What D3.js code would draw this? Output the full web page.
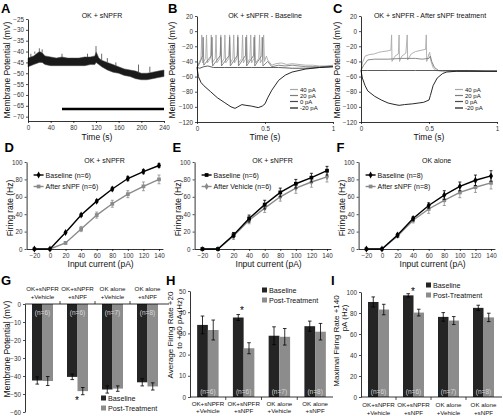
<!DOCTYPE html>
<html><head><meta charset="utf-8">
<script src="https://cdn.jsdelivr.net/npm/d3@7"></script>
<style>
body{margin:0;background:#fff}
svg{display:block;font-family:'Liberation Sans',Arial,sans-serif}
</style></head><body>
<svg id="c" width="503" height="416"></svg>
<script>
// ---------- DATA ----------
// Panel A: membrane potential band (time s, upper mV, lower mV)
const aTimes = [0,5,10,15,20,25,30,40,50,60,70,80,90,100,110,118,120,125,130,140,150,160,170,180,190,200,210,220,230,240];
const aUpper = [-43,-42.5,-42,-41,-40,-40.5,-42,-42.5,-43,-42.5,-43,-43,-43,-42.5,-42.5,-42,-40,-43,-44,-45,-46,-47,-48,-48.5,-49,-50,-50,-49.5,-49,-48.5];
const aLower = [-47,-46.5,-46,-45.5,-45,-45,-46,-46.5,-46.5,-46.5,-46.5,-46.5,-46.5,-46.5,-46,-46,-45,-46,-47,-48.5,-49.5,-50,-51,-51.5,-52.5,-53,-53,-52.5,-52,-51.5];
const aSpikes = [[5,-41],[12,-40],[20,-38.5],[25,-39],[60,-41],[105,-41],[120,-37.5],[130,-41],[140,-43],[155,-45],[195,-46],[215,-47]];
const aTreatment = [60,240];
const aTreatLevel = -66.5;
const aXTicks = [0,40,80,120,160,200,240];
const aYTicks = [-25,-30,-35,-40,-45,-50,-55,-60,-65,-70];

// Panel B traces (time s, mV)
const bTrace40 = [[0,-48],[0.015,-41],[0.029,-37],[0.035,-5],[0.041,-42],[0.064,-36],[0.07,-5],[0.076,-42],[0.099,-36],[0.105,-5],[0.111,-42],[0.134,-36],[0.14,-5],[0.146,-42],[0.169,-36],[0.175,-5],[0.181,-42],[0.199,-36],[0.205,-5],[0.211,-42],[0.234,-36],[0.24,-5],[0.246,-42],[0.264,-36],[0.27,-5],[0.276,-42],[0.294,-36],[0.30,-5],[0.306,-42],[0.329,-36],[0.335,-5],[0.341,-42],[0.359,-36],[0.365,-5],[0.371,-42],[0.389,-36],[0.395,-5],[0.401,-42],[0.419,-36],[0.425,-5],[0.431,-42],[0.454,-36],[0.46,-5],[0.466,-42],[0.484,-36],[0.49,-5],[0.496,-40],[0.51,-33],[0.52,-38],[0.55,-45],[0.58,-43],[0.62,-42],[0.66,-44],[0.7,-43],[0.75,-44],[0.8,-45],[0.85,-45],[0.9,-46],[0.95,-46],[1,-45]];
const bTrace20 = [[0,-48],[0.02,-42],[0.042,-32],[0.045,-8],[0.05,-45],[0.107,-32],[0.11,-8],[0.115,-46],[0.172,-32],[0.175,-8],[0.18,-46],[0.237,-32],[0.24,-8],[0.245,-46],[0.297,-32],[0.30,-8],[0.305,-46],[0.357,-32],[0.36,-8],[0.365,-46],[0.417,-32],[0.42,-8],[0.425,-46],[0.477,-32],[0.48,-8],[0.485,-46],[0.52,-40],[0.55,-47],[0.6,-45],[0.65,-46],[0.7,-45],[0.8,-47],[0.9,-47],[1,-46]];
const bTrace0 = [[0,-48],[0.02,-49],[0.05,-47],[0.08,-46],[0.12,-48],[0.2,-48],[0.3,-48],[0.4,-48],[0.5,-48],[0.6,-48],[0.7,-49],[0.8,-49],[0.9,-48],[1,-47]];
const bTraceM20 = [[0,-48],[0.01,-60],[0.03,-68],[0.05,-72],[0.1,-80],[0.15,-88],[0.2,-94],[0.25,-100],[0.28,-102],[0.3,-100],[0.33,-97],[0.36,-98],[0.4,-99],[0.45,-101],[0.48,-99],[0.5,-96],[0.52,-88],[0.55,-78],[0.6,-65],[0.65,-58],[0.7,-54],[0.75,-52],[0.8,-50],[0.9,-48],[1,-47]];

// Panel C traces
const cTrace40 = [[0,-52],[0.01,-42],[0.03,-33],[0.06,-31],[0.1,-30],[0.13,-28],[0.16,-27],[0.2,-26],[0.22,-25],[0.225,-5],[0.228,-40],[0.25,-33],[0.275,-30],[0.28,-5],[0.283,-40],[0.3,-33],[0.33,-29],[0.34,-5],[0.343,-38],[0.37,-30],[0.4,-27],[0.45,-25],[0.475,-24],[0.48,-5],[0.483,-40],[0.5,-30],[0.505,-28],[0.515,-40],[0.53,-48],[0.55,-52],[0.6,-53],[0.7,-52],[0.8,-52],[0.9,-53],[1,-52]];
const cTrace20 = [[0,-52],[0.02,-45],[0.05,-38],[0.1,-37],[0.2,-37],[0.3,-36],[0.4,-36],[0.45,-37],[0.5,-36],[0.51,-33],[0.52,-40],[0.54,-48],[0.57,-52],[0.7,-53],[1,-53]];
const cTrace0 = [[0,-52],[0.05,-52],[0.2,-52],[0.4,-52],[0.6,-52],[0.8,-52],[1,-53]];
const cTraceM20 = [[0,-52],[0.01,-62],[0.03,-72],[0.05,-79],[0.1,-86],[0.15,-91],[0.2,-95],[0.25,-97],[0.28,-98],[0.32,-97],[0.38,-96],[0.42,-95],[0.46,-94],[0.5,-91],[0.51,-85],[0.53,-72],[0.56,-62],[0.6,-56],[0.63,-54],[0.7,-53],[1,-53]];

const traceLabels = ["40 pA","20 pA","0 pA","-20 pA"];
const traceTicksY = [20,0,-20,-40,-60,-80,-100,-120];
const traceTicksX = [0,0.5,1];

// Panels D-F: F-I curves
const currents = [-20,0,20,40,60,80,100,120,140];
const dBase = [0,0,19,39,55,69,81,89,96];
const dBaseErr = [0,0,1,1.5,1.5,2,2.5,2.5,2];
const dPost = [0,0,7,23,39,52,63,72,80];
const dPostErr = [0,0,1.5,3,3.5,4,4,5,5];
const eBase = [0,0,16,35,51,65,75,82,90];
const eBaseErr = [0,0,3,4,5,5,5,5,5];
const ePost = [0,0,15,33,47,60,70,77,83];
const ePostErr = [0,0,4,4,5,5,6,6,6];
const fBase = [0,0,16,35,50,62,72,79,84];
const fBaseErr = [0,0,2,2,3,5,5,6,6];
const fPost = [0,0,15,33,46,56,65,71,76];
const fPostErr = [0,0,2,3,5,6,6,6,7];
const fiXTicks = [-20,0,20,40,60,80,100,120,140];
const fiYTicks = [0,20,40,60,80,100];

// Panels G-I: bar charts
const groups = ["g1","g2","g3","g4"];
const groupLine1 = ["OK+sNPFR","OK+sNPFR","OK alone","OK alone"];
const groupLine2 = ["+Vehicle","+sNPF","+Vehicle","+sNPF"];
const nLabels = ["(n=6)","(n=6)","(n=7)","(n=8)"];
const gBase = [-42.5,-40.5,-47.5,-43.5];
const gBaseErr = [2,1.5,2,2];
const gPost = [-42.8,-48.4,-47,-45.8];
const gPostErr = [2.5,2,1.5,2];
const hBase = [34,37.5,28.9,33.4];
const hBaseErr = [4.2,1.4,4.2,2.4];
const hPost = [31.6,23,28.4,30.8];
const hPostErr = [4.7,2.6,3.9,3.9];
const iBase = [90.5,96.8,76.3,84.9];
const iBaseErr = [4.8,1.6,4.1,2.5];
const iPost = [83.3,80.4,72.8,75.8];
const iPostErr = [5,3.2,3.8,4];
const gYTicks = [0,-10,-20,-30,-40,-50,-60];
const hYTicks = [0,10,20,30,40,50];
const iYTicks = [0,20,40,60,80,100];
const legendLabels = ["Baseline","Post-Treatment"];

// ---------- DRAW ----------
const svg = d3.select("#c");
const FS = 6.3;

function styleAxis(g){
  g.selectAll("path.domain").attr("stroke","#000").attr("stroke-width",0.8);
  g.selectAll(".tick line").attr("stroke","#000").attr("stroke-width",0.7);
  g.selectAll(".tick text").attr("font-size",FS).attr("fill","#333").attr("font-family","'Liberation Sans',Arial,sans-serif");
}
function leftAxis(scale,x,ticks){
  const g = svg.append("g").attr("transform",`translate(${x},0)`)
    .call(d3.axisLeft(scale).tickValues(ticks).tickSize(2).tickPadding(2).tickSizeOuter(0));
  styleAxis(g); return g;
}
function bottomAxis(scale,y,ticks,fmt){
  const ax = d3.axisBottom(scale).tickValues(ticks).tickSize(2).tickPadding(2.5).tickSizeOuter(0);
  if(fmt) ax.tickFormat(fmt);
  const g = svg.append("g").attr("transform",`translate(0,${y})`).call(ax);
  styleAxis(g); return g;
}
function text(x,y,s,opt={}){
  const t = svg.append("text").attr("x",x).attr("y",y).text(s)
    .attr("font-size",opt.size||8).attr("fill",opt.fill||"#111")
    .attr("text-anchor",opt.anchor||"middle")
    .attr("dominant-baseline",opt.base||"central");
  if(opt.bold) t.attr("font-weight","bold");
  return t;
}
function vtext(x,y,s,size){
  svg.append("text").attr("transform",`translate(${x},${y}) rotate(-90)`)
    .attr("text-anchor","middle").attr("dominant-baseline","central")
    .attr("font-size",size||8.5).attr("fill","#111").text(s);
}
function letter(x,y,s){ text(x,y,s,{size:13,bold:true,anchor:"start",base:"auto",fill:"#000"}); }

// ---- Panel A ----
{
  const x = d3.scaleLinear([0,240],[28,164]);
  const y = d3.scaleLinear([-72,-25],[121,19]);
  const band = aTimes.map((t,i)=>({t,u:aUpper[i],l:aLower[i]}));
  svg.append("path").datum(band)
    .attr("d",d3.area().x(d=>x(d.t)).y0(d=>y(d.l)).y1(d=>y(d.u)).curve(d3.curveLinear))
    .attr("fill","#1a1a1a").attr("stroke","#444").attr("stroke-width",0.5);
  aSpikes.forEach(([t,v])=>{
    const i = d3.bisectLeft(aTimes,t);
    const base = aUpper[Math.min(i,aUpper.length-1)];
    svg.append("line").attr("x1",x(t)).attr("x2",x(t)).attr("y1",y(base)).attr("y2",y(v))
      .attr("stroke","#444").attr("stroke-width",0.8);
  });
  svg.append("line").attr("x1",x(aTreatment[0])).attr("x2",x(aTreatment[1]))
    .attr("y1",y(aTreatLevel)).attr("y2",y(aTreatLevel)).attr("stroke","#000").attr("stroke-width",2.6);
  leftAxis(y,28,aYTicks);
  bottomAxis(x,121,aXTicks);
  text(102,15,"OK + sNPFR",{size:7});
  text(97,137,"Time (s)",{size:8.5});
  vtext(7,70,"Membrane Potential (mV)");
  letter(1,13,"A");
}

// ---- Panels B, C ----
const traceColors = ["#a9a9a9","#7d7d7d","#4a4a4a","#111"];
function tracePanel(x0,x1,title,titleX,traces,legX,lab,labX){
  const x = d3.scaleLinear([0,1],[x0,x1]);
  const y = d3.scaleLinear([-120,20],[122,16]);
  const line = d3.line().x(d=>x(d[0])).y(d=>y(d[1]));
  traces.forEach((tr,i)=>{
    svg.append("path").datum(tr).attr("d",line).attr("fill","none")
      .attr("stroke",traceColors[i]).attr("stroke-width",0.9).attr("stroke-linejoin","round");
  });
  leftAxis(y,x0,traceTicksY);
  bottomAxis(x,122,traceTicksX,d3.format("~g"));
  const legY = [89.5,95.5,101.5,108];
  traceLabels.forEach((l,i)=>{
    svg.append("line").attr("x1",legX).attr("x2",legX+8).attr("y1",legY[i]).attr("y2",legY[i])
      .attr("stroke",traceColors[i]).attr("stroke-width",1.2);
    text(legX+10,legY[i],l,{size:6,anchor:"start"});
  });
  text(titleX,15,title,{size:7});
  text((x0+x1)/2,137,"Time (s)",{size:8.5});
  vtext(labX,70,"Membrane Potential (mV)");
  letter(labX-4,13,lab);
}
tracePanel(197,333,"OK + sNPFR - Baseline",265,[bTrace40,bTrace20,bTrace0,bTraceM20],290,"B",172);
tracePanel(361,497,"OK + sNPFR - After sNPF treatment",430,[cTrace40,cTrace20,cTrace0,cTraceM20],455,"C",337);

// ---- Panels D, E, F ----
function fiPanel(x0,title,base,baseErr,post,postErr,legA,legB,symA,symB,lab){
  const x = d3.scaleLinear([-30,145],[x0,x0+136.3]);
  const y = d3.scaleLinear([0,100],[249,162]);
  const series = [
    {v:post,e:postErr,c:"#8a8a8a",sym:symB,name:legB},
    {v:base,e:baseErr,c:"#000",sym:symA,name:legA}
  ];
  series.forEach(s=>{
    const pts = currents.map((c,i)=>({c,v:s.v[i],e:s.e[i]}));
    svg.append("path").datum(pts).attr("d",d3.line().x(d=>x(d.c)).y(d=>y(d.v)))
      .attr("fill","none").attr("stroke",s.c).attr("stroke-width",1.4);
    pts.forEach(d=>{
      if(d.e>0){
        svg.append("line").attr("x1",x(d.c)).attr("x2",x(d.c)).attr("y1",y(d.v-d.e)).attr("y2",y(d.v+d.e)).attr("stroke",s.c).attr("stroke-width",0.8);
        [d.v-d.e,d.v+d.e].forEach(v=>svg.append("line").attr("x1",x(d.c)-1.5).attr("x2",x(d.c)+1.5).attr("y1",y(v)).attr("y2",y(v)).attr("stroke",s.c).attr("stroke-width",0.8));
      }
      svg.append("path").attr("d",d3.symbol(s.sym,14)()).attr("transform",`translate(${x(d.c)},${y(d.v)})`).attr("fill",s.c);
    });
  });
  leftAxis(y,x0,fiYTicks);
  bottomAxis(x,249,fiXTicks);
  const lx = x0+7;
  [{s:series[1],y:175},{s:series[0],y:186.5}].forEach(o=>{
    svg.append("line").attr("x1",lx).attr("x2",lx+10).attr("y1",o.y).attr("y2",o.y).attr("stroke",o.s.c).attr("stroke-width",1.4);
    svg.append("path").attr("d",d3.symbol(o.s.sym,14)()).attr("transform",`translate(${lx+5},${o.y})`).attr("fill",o.s.c);
    text(lx+12,o.y,o.s.name,{size:7,anchor:"start"});
  });
  text(x0+78,160,title,{size:7});
  text(x0+74,263.5,"Input current (pA)",{size:8.5});
  vtext(x0-17,208,"Firing rate (Hz)");
  letter(x0-22,152,lab);
}
fiPanel(26.6,"OK + sNPFR",dBase,dBaseErr,dPost,dPostErr,"Baseline (n=6)","After sNPF (n=6)",d3.symbolDiamond,d3.symbolSquare,"D");
fiPanel(194.6,"OK + sNPFR",eBase,eBaseErr,ePost,ePostErr,"Baseline (n=6)","After Vehicle (n=6)",d3.symbolSquare,d3.symbolDiamond,"E");
fiPanel(358.6,"OK alone",fBase,fBaseErr,fPost,fPostErr,"Baseline (n=8)","After sNPF (n=8)",d3.symbolDiamond,d3.symbolSquare,"F");

// ---- Panels G, H, I ----
const barColors = ["#242424","#8c8c8c"];
function barPanel(opt){
  const x = d3.scaleBand(groups,[opt.x0,opt.x1]).paddingInner(0.4).paddingOuter(0.2);
  const sub = d3.scaleBand(["b","p"],[0,x.bandwidth()]);
  const y = d3.scaleLinear(opt.domain,opt.yrange);
  const zero = y(0);
  const sets = [{k:"b",v:opt.base,e:opt.baseErr},{k:"p",v:opt.post,e:opt.postErr}];
  sets.forEach((s,si)=>{
    groups.forEach((g,i)=>{
      const bx = x(g)+sub(s.k), v = s.v[i];
      svg.append("rect").attr("x",bx).attr("width",sub.bandwidth())
        .attr("y",Math.min(y(v),zero)).attr("height",Math.abs(y(v)-zero)).attr("fill",barColors[si]);
      const cx = bx+sub.bandwidth()/2;
      svg.append("line").attr("x1",cx).attr("x2",cx).attr("y1",y(v-s.e[i])).attr("y2",y(v+s.e[i])).attr("stroke","#000").attr("stroke-width",0.8);
      [v-s.e[i],v+s.e[i]].forEach(w=>svg.append("line").attr("x1",cx-1.8).attr("x2",cx+1.8).attr("y1",y(w)).attr("y2",y(w)).attr("stroke","#000").attr("stroke-width",0.8));
    });
  });
  groups.forEach((g,i)=>text(x(g)+x.bandwidth()/2,opt.nY,nLabels[i],{size:6.5,fill:"#d8d8d8"}));
  svg.append("line").attr("x1",opt.x0).attr("x2",opt.axEnd).attr("y1",zero).attr("y2",zero).attr("stroke","#000").attr("stroke-width",0.8);
  const step = x.step();
  groups.slice(1).forEach(g=>{
    const sx = x(g)-step*x.paddingInner()/2;
    svg.append("line").attr("x1",sx).attr("x2",sx).attr("y1",zero).attr("y2",zero+opt.sepDir*3).attr("stroke","#000").attr("stroke-width",0.7);
  });
  groups.forEach((g,i)=>{
    const cx = x(g)+x.bandwidth()/2;
    text(cx,opt.labY[0],groupLine1[i],{size:6.2});
    text(cx,opt.labY[1],groupLine2[i],{size:6.2});
  });
  leftAxis(y,opt.x0,opt.ticks);
  legendLabels.forEach((l,i)=>{
    svg.append("rect").attr("x",opt.legX).attr("y",opt.legY[i]-2.5).attr("width",5).attr("height",5).attr("fill",barColors[i]);
    text(opt.legX+7,opt.legY[i],l,{size:7.2,anchor:"start"});
  });
  text(opt.star[0],opt.star[1],"*",{size:10,fill:"#000"});
}
barPanel({x0:25,x1:165,axEnd:169,domain:[-60,0],yrange:[412,304],base:gBase,baseErr:gBaseErr,post:gPost,postErr:gPostErr,
  nY:312,sepDir:-1,labY:[288,296],ticks:gYTicks,legX:101,legY:[398,408],star:[77,400]});
barPanel({x0:190,x1:333,axEnd:333,domain:[0,50],yrange:[397,291],base:hBase,baseErr:hBaseErr,post:hPost,postErr:hPostErr,
  nY:391,sepDir:1,labY:[403,410],ticks:hYTicks,legX:262,legY:[290,300],star:[242,310]});
barPanel({x0:361,x1:501,axEnd:502,domain:[0,100],yrange:[397,292],base:iBase,baseErr:iBaseErr,post:iPost,postErr:iPostErr,
  nY:391,sepDir:1,labY:[404.5,412],ticks:iYTicks,legX:426,legY:[285,295],star:[413,291]});
vtext(7,349,"Membrane Potential (mV)");
vtext(170,335,"Average Firing Rate +20",8);
vtext(179,323,"to +60 pA (Hz)",8);
vtext(336,341,"Maximal Firing Rate +140",8);
vtext(344,318,"pA (Hz)",8);
letter(1,285,"G");
letter(166,285,"H");
letter(331,285,"I");
</script></body></html>
